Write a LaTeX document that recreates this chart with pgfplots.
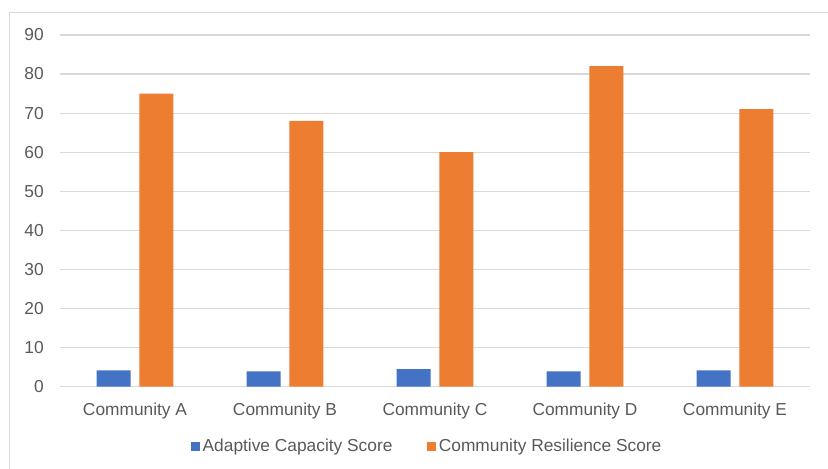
\documentclass[border=0pt]{standalone}
\usepackage{pgfplots}
\pgfplotsset{compat=1.18}
\usepackage{fontspec}
\setmainfont{Liberation Sans}
\definecolor{cblue}{HTML}{4472C4}
\definecolor{corange}{HTML}{ED7D31}
\definecolor{cgrid}{HTML}{D9D9D9}
\definecolor{ctext}{HTML}{595959}
\begin{document}
\begin{tikzpicture}
\begin{axis}[
  at={(0,0)}, anchor=south west,
  scale only axis,
  width=562.5pt, height=263.8pt,
  xmin=-0.5, xmax=4.5,
  ymin=0, ymax=90,
  ytick={0,10,...,90},
  xtick={0,1,2,3,4},
  xticklabels={Community A,Community B,Community C,Community D,Community E},
  axis line style={draw=none},
  major tick length=0pt,
  ymajorgrids,
  grid style={cgrid, line width=0.9pt},
  tick label style={font=\fontsize{13}{15}\selectfont, text=ctext},
  /pgf/number format/assume math mode=true,
  yticklabel style={inner sep=0pt, xshift=-12pt},
  xticklabel style={inner sep=0pt, yshift=-12pt},
  legend style={at={(0.49,-0.169)}, anchor=center, draw=none, fill=none,
    font=\fontsize{13}{15}\selectfont, text=ctext,
    legend columns=2, /tikz/every even column/.append style={column sep=24pt}},
  legend image code/.code={\fill[#1] (0pt,-3.4pt) rectangle (6.8pt,3.4pt);},
  clip=false,
]
\addplot[ybar, bar width=25.5pt, bar shift=-16.1pt, fill=cblue, draw=none]
  coordinates {(0,4.2) (1,3.9) (2,4.5) (3,3.9) (4,4.2)};
\addlegendentry{Adaptive Capacity Score}
\addplot[ybar, bar width=25.5pt, bar shift=16.1pt, fill=corange, draw=none]
  coordinates {(0,75) (1,68) (2,60) (3,82) (4,71)};
\addlegendentry{Community Resilience Score}
\end{axis}
\draw[cgrid, line width=0.75pt] (-37.5pt,-70pt) -- (-37.5pt,281pt) -- (590pt,281pt);
\pgfresetboundingbox
\useasboundingbox (-45pt,-61.7pt) rectangle (576pt,290pt);
\end{tikzpicture}
\end{document}
